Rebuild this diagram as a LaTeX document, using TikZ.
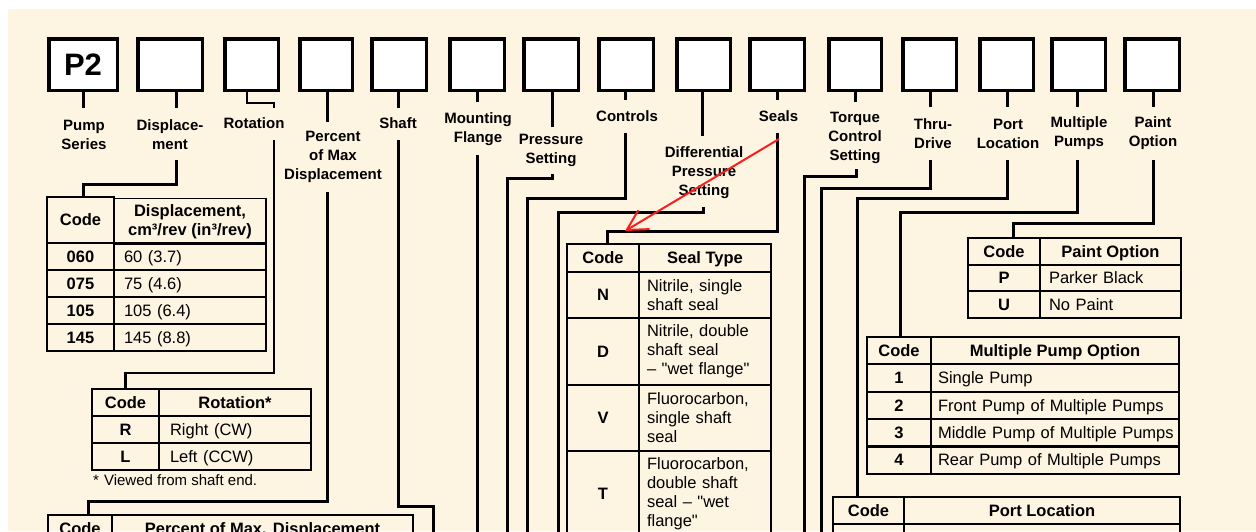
\documentclass[tikz,border=0pt]{standalone}
\usepackage{fontspec}
\setmainfont{Liberation Sans}[Ligatures=TeXOff]
\usetikzlibrary{positioning, arrows.meta}
\definecolor{cream}{RGB}{254,244,226}
\definecolor{markred}{RGB}{250,30,30}

\begin{document}
\begin{tikzpicture}[
    x=1pt, y=-1pt,
    codebox/.style={draw, line width=3.5pt, fill=white, minimum width=#1, minimum height=51.5pt, inner sep=0pt},
    lbl/.style={align=center, inner sep=0pt, font=\fontsize{15}{19}\selectfont\bfseries},
    lead/.style={line width=3pt},
    cell/.style={draw, line width=1.8pt, inner sep=0pt, align=center, font=\fontsize{16.5}{19}\selectfont\bfseries},
    valcell/.style={cell, align=left, inner xsep=#1, font=\fontsize{16.5}{19}\selectfont},
    oneline/.style={text height=11.8pt, text depth=0pt},
    redmark/.style={markred, line width=2pt, -{Straight Barb[length=20pt, width=22pt]}}
]
    \useasboundingbox (0,0) rectangle (1256,531);
    \clip (0,0) rectangle (1256,531);
    \fill[white] (0,0) rectangle (1256,531);
    \fill[cream] (8,9) rectangle (1256,531);

    % code boxes
    \node[codebox=68.5pt, font=\fontsize{31}{31}\selectfont\bfseries] (b1) at (83,64.5) {P2};
    \foreach \n/\x/\w in {2/170/64.5, 3/251.5/53.5, 4/326/52.5, 5/399/54.5, 6/477/54.5, 7/551/54.5, 8/626/54.5, 9/703.5/53.5, 10/777/54.5, 11/855/52.5, 12/929.5/53.5, 13/1006.5/53.5, 14/1078.5/53.5, 15/1152/54.5}
        \node[codebox=\w pt] (b\n) at (\x,64.5) {};

    % stubs under the boxes
    \foreach \n/\x/\y in {1/83/108, 2/176/108, 4/327/122, 5/398/108, 6/477/102, 7/552/127, 8/625/100, 9/702/136, 10/777/100, 11/855/102, 12/930/107, 13/1007/107, 14/1077/107, 15/1153/107} {
        \coordinate (s\n) at (\x,\y);
        \draw[lead] (b\n.south -| s\n) -- (s\n);
    }
    \coordinate (s3) at (274,108);
    \draw[lead, line width=2.2pt] ([xshift=-4.5pt]b3.south) |- ++(27,11) -- (s3);

    % labels
    \node[lbl] (l1) at (84,134.5) {Pump\\Series};
    \node[lbl] (l2) at (170,134.5) {Displace-\\ment};
    \node[lbl] (l3) at (254,123) {Rotation};
    \node[lbl] (l4) at (333,157) {Percent\\of Max\\Displacement};
    \node[lbl] (l5) at (398,123) {Shaft};
    \node[lbl] (l6) at (478,129) {Mounting\\Flange};
    \node[lbl] (l7) at (551,150.5) {Pressure\\Setting};
    \node[lbl] (l8) at (627,116) {Controls};
    \node[lbl] (l9) at (704,172.5) {Differential\\Pressure\\Setting};
    \node[lbl] (l10) at (778.5,116) {Seals};
    \node[lbl] (l11) at (855,137.5) {Torque\\Control\\Setting};
    \node[lbl] (l12) at (933,133.5) {Thru-\\Drive};
    \node[lbl] (l13) at (1008,133.5) {Port\\Location};
    \node[lbl] (l14) at (1079,133.5) {Multiple\\Pumps};
    \node[lbl] (l15) at (1153,133.5) {Paint\\Option};

    % displacement table
    \node[cell, oneline, minimum width=67pt, minimum height=46pt] (dh1) at (80.5,220) {Code};
    \node[cell, minimum width=152pt, minimum height=46pt] (dh2) at (190,221.5) {Displacement,\\cm³/rev (in³/rev)};
    \foreach \y/\c/\v [count=\i] in {256.5/060/60 (3.7), 283.5/075/75 (4.6), 310.5/105/105 (6.4), 337.5/145/145 (8.8)} {
        \node[cell, oneline, minimum width=67pt, minimum height=27pt] (dc\i) at (80.5,\y) {\c};
        \node[valcell=10pt, oneline, text width=132pt, minimum height=27pt] (dv\i) at (190,\y) {\v};
    }

    % rotation table
    \node[cell, oneline, minimum width=67pt, minimum height=27pt] (rh1) at (125.5,402.5) {Code};
    \node[cell, oneline, minimum width=152pt, minimum height=27pt] (rh2) at (235,402.5) {Rotation*};
    \foreach \y/\c/\v [count=\i] in {429.5/R/Right (CW), 456.5/L/Left (CCW)} {
        \node[cell, oneline, minimum width=67pt, minimum height=27pt] (rc\i) at (125.5,\y) {\c};
        \node[valcell=11pt, oneline, text width=130pt, minimum height=27pt] (rv\i) at (235,\y) {\v};
    }
    \node[anchor=west, inner sep=0pt, font=\fontsize{15}{19}\selectfont] (rnote) at (93,480) {*\hspace{5pt}Viewed from shaft end.};

    % percent table
    \node[cell, oneline, minimum width=64pt, minimum height=28pt] (ph1) at (80,529) {Code};
    \node[cell, oneline, minimum width=301pt, minimum height=28pt] (ph2) at (262.5,529) {Percent of Max. Displacement};

    % seal table
    \node[cell, oneline, minimum width=72pt, minimum height=28pt] (sh1) at (603,258) {Code};
    \node[cell, oneline, minimum width=132pt, minimum height=28pt] (sh2) at (705,258) {Seal Type};
    \foreach \y/\h/\c/\v [count=\i] in {295/46/N/{Nitrile, single\\shaft seal}, 351.5/67/D/{Nitrile, double\\shaft seal\\– "wet flange"}, 418/66/V/{Fluorocarbon,\\single shaft\\seal}, 493.5/85/T/{Fluorocarbon,\\double shaft\\seal – "wet\\flange"}} {
        \node[cell, oneline, minimum width=72pt, minimum height=\h pt] (sc\i) at (603,\y) {\c};
        \node[valcell=8pt, text width=116pt, minimum height=\h pt] (sv\i) at (705,\y) {\v};
    }

    % paint table
    \node[cell, oneline, minimum width=72pt, minimum height=27pt] (ah1) at (1004,251.5) {Code};
    \node[cell, oneline, minimum width=141pt, minimum height=27pt] (ah2) at (1110.5,251.5) {Paint Option};
    \foreach \y/\c/\v [count=\i] in {278/P/Parker Black, 304.5/U/No Paint} {
        \node[cell, oneline, minimum width=72pt, minimum height=27pt] (ac\i) at (1004,\y) {\c};
        \node[valcell=9pt, oneline, text width=123pt, minimum height=27pt] (av\i) at (1110.5,\y) {\v};
    }

    % multiple pump table
    \node[cell, oneline, minimum width=64pt, minimum height=27.3pt] (mh1) at (899,350.5) {Code};
    \node[cell, oneline, minimum width=248pt, minimum height=27.3pt] (mh2) at (1055,350.5) {Multiple Pump Option};
    \foreach \y/\c/\v [count=\i] in {378/1/Single Pump, 405.5/2/Front Pump of Multiple Pumps, 433/3/Middle Pump of Multiple Pumps, 460/4/Rear Pump of Multiple Pumps} {
        \node[cell, oneline, minimum width=64pt, minimum height=27.3pt] (mc\i) at (899,\y) {\c};
        \node[valcell=7pt, oneline, text width=234pt, minimum height=27.3pt] (mv\i) at (1055,\y) {\mbox{\v}};
    }

    % port location table
    \node[cell, oneline, minimum width=71pt, minimum height=27pt] (oh1) at (868.5,510.5) {Code};
    \node[cell, oneline, minimum width=276pt, minimum height=27pt] (oh2) at (1042,510.5) {Port Location};
    \node[cell, minimum width=71pt, minimum height=40pt] (oc1) at (868.5,544) {};
    \node[cell, minimum width=276pt, minimum height=40pt] (ov1) at (1042,544) {};

    % leads from the labels
    \foreach \n/\x/\y in {2/176/160, 3/274/140, 4/327/192, 5/398/140, 6/477/155, 7/552/174, 8/625/133, 9/703/207, 10/777/133, 11/856/169, 12/930/160, 13/1007/160, 14/1077/160, 15/1153/160}
        \coordinate (t\n) at (\x,\y);
    \foreach \n/\x in {5/433, 6/477, 7/507, 8/527, 9/558, 11/804, 12/821}
        \coordinate (e\n) at (\x,540);

    \draw[lead] (t2) -- ++(0,24) -| ([xshift=2.5pt]dh1.north);
    \draw[lead, line width=2.2pt] (t3) -- ++(0,233) -| (rh1.north);
    \draw[lead] (t4) -- ++(0,309) -| ([xshift=8pt]ph1.north);
    \draw[lead] (t5) -- ++(0,366) -| (e5);
    \draw[lead] (t6) -- (e6);
    \draw[lead] (t7) -- ++(0,4) -| (e7);
    \draw[lead] (t8) -- ++(0,65) -| (e8);
    \draw[lead] (t9) -- ++(0,5) -| (e9);
    \draw[lead] (t10) -- ++(0,98) -| ([xshift=4pt]sh1.north);
    \draw[lead] (t11) -- ++(0,7) -| (e11);
    \draw[lead] (t12) -- ++(0,28) -| (e12);
    \draw[lead] (t13) -- ++(0,38) -| ([xshift=-11.5pt]oh1.north);
    \draw[lead] (t14) -- ++(0,52) -| ([xshift=1pt]mh1.north);
    \draw[lead] (t15) -- ++(0,63) -| ([xshift=9pt]ah1.north);

    % red mark
    \coordinate (markS) at (779,139);
    \coordinate (markE) at (625,231);
    \draw[redmark] (markS) -- (markE);
\end{tikzpicture}
\end{document}
